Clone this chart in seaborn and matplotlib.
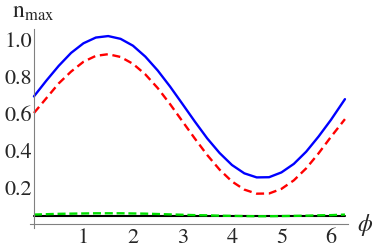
import numpy as np
import pandas as pd
import seaborn as sns
import matplotlib.pyplot as plt
from matplotlib.ticker import MultipleLocator, FormatStrFormatter

# values
phi = [0.0, 0.25, 0.5, 0.75, 1.0, 1.25, 1.5, 1.75, 2.0, 2.25, 2.5, 2.75, 3.0,
       3.25, 3.5, 3.75, 4.0, 4.25, 4.5, 4.75, 5.0, 5.25, 5.5, 5.75, 6.0, 6.283]
n_blue = [0.69, 0.775, 0.855, 0.925, 0.977, 1.008, 1.016, 1.001, 0.964, 0.905,
          0.830, 0.743, 0.649, 0.554, 0.463, 0.384, 0.319, 0.274, 0.252, 0.253,
          0.279, 0.325, 0.391, 0.473, 0.563, 0.675]
n_red = [0.60, 0.68, 0.76, 0.824, 0.877, 0.909, 0.918, 0.903, 0.866, 0.809,
         0.735, 0.648, 0.555, 0.462, 0.373, 0.294, 0.230, 0.186, 0.164, 0.165,
         0.190, 0.236, 0.301, 0.382, 0.471, 0.567]
n_green = [0.051, 0.053, 0.055, 0.056, 0.057, 0.058, 0.058, 0.058, 0.057, 0.056,
           0.054, 0.052, 0.050, 0.048, 0.047, 0.045, 0.044, 0.043, 0.042, 0.042,
           0.043, 0.044, 0.045, 0.047, 0.048, 0.051]
n_black = [0.043] * len(phi)

x_ticks = [1, 2, 3, 4, 5, 6]
y_ticks = [0.2, 0.4, 0.6, 0.8, 1.0]

sns.set_theme(style='white')
plt.rcParams['font.family'] = ['STIXGeneral', 'DejaVu Serif']
plt.rcParams['mathtext.fontset'] = 'stix'

fig = plt.figure(figsize=(3.74, 2.53), dpi=100)
ax = fig.add_axes([0.0802, 0.096, 0.851, 0.786])

sns.lineplot(x=phi, y=n_blue, ax=ax, color='#0000ff', lw=1.7)
sns.lineplot(x=phi, y=n_red, ax=ax, color='#ff0000', lw=1.7, linestyle=(0, (3.4, 2.0)))
sns.lineplot(x=phi, y=n_black, ax=ax, color='black', lw=1.5)
sns.lineplot(x=phi, y=n_green, ax=ax, color='#00e000', lw=1.7, linestyle=(0, (3.4, 1.6)))

ax.set_xlim(-0.08, 6.35)
ax.set_ylim(-0.02, 1.055)
sns.despine(ax=ax)
ax.spines['left'].set_position(('data', 0))
ax.spines['bottom'].set_position(('data', 0))
for s in ['left', 'bottom']:
    ax.spines[s].set_color('#808080')
    ax.spines[s].set_linewidth(0.8)

ax.set_xticks(x_ticks)
ax.set_yticks(y_ticks)
ax.yaxis.set_major_formatter(FormatStrFormatter('%.1f'))
ax.xaxis.set_minor_locator(MultipleLocator(0.2))
ax.yaxis.set_minor_locator(MultipleLocator(0.05))
ax.tick_params(which='both', direction='in', color='#808080', width=0.6, labelsize=16)
ax.tick_params(which='major', length=3)
ax.tick_params(which='minor', length=1.6)
ax.tick_params(axis='x', which='both', pad=2)
ax.tick_params(axis='y', which='both', pad=1.5)
ax.set_xlabel('')
ax.set_ylabel('')

fig.text(12 / 374, 1 - 18 / 253, r'$\mathrm{n}_{\mathrm{max}}$', ha='left', va='baseline', fontsize=17)
fig.text(365 / 374, 1 - 225 / 253, r'$\phi$', ha='center', va='center', fontsize=17)

fig.savefig('out.png', dpi=100)
